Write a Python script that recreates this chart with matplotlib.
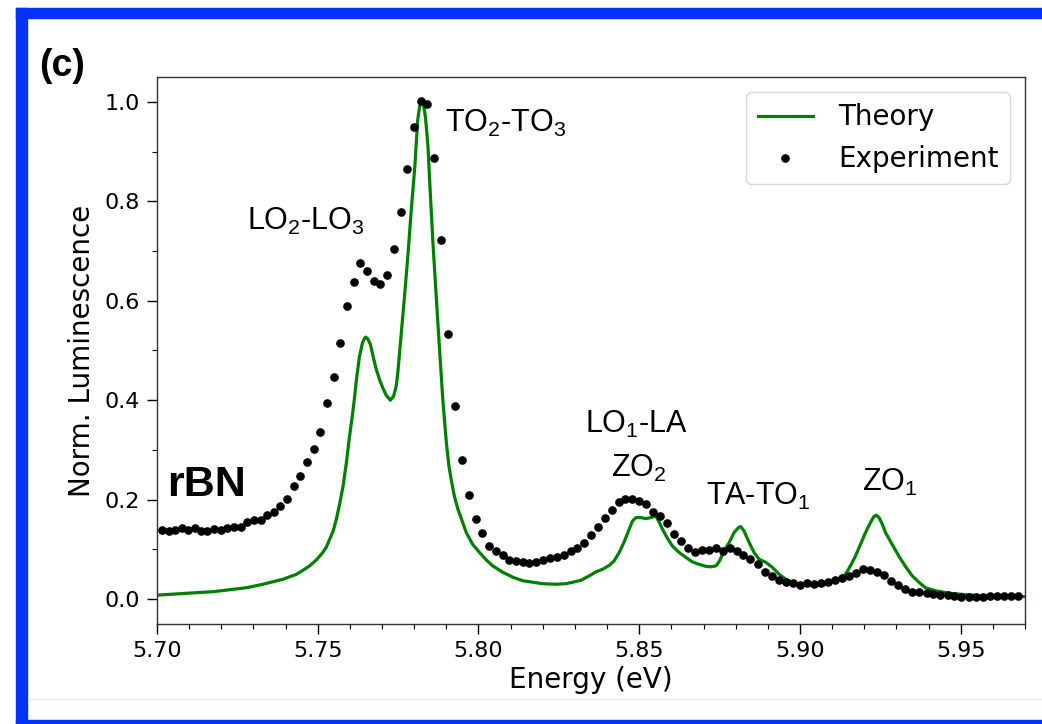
import matplotlib
matplotlib.use("Agg")
import matplotlib.pyplot as plt
from matplotlib.patches import Rectangle
from matplotlib.lines import Line2D
from matplotlib.ticker import MultipleLocator

# ---------------- data ----------------
theory_energy = [5.7000, 5.7071, 5.7123, 5.7175, 5.7227, 5.7279, 5.7330, 5.7361, 5.7392, 5.7413,
                 5.7434, 5.7454, 5.7475, 5.7496, 5.7516, 5.7527, 5.7537, 5.7548, 5.7558, 5.7568,
                 5.7579, 5.7589, 5.7599, 5.7608, 5.7615, 5.7620, 5.7630, 5.7639, 5.7646, 5.7649,
                 5.7656, 5.7664, 5.7672, 5.7682, 5.7693, 5.7703, 5.7713, 5.7726, 5.7736, 5.7744,
                 5.7749, 5.7760, 5.7770, 5.7781, 5.7791, 5.7802, 5.7811, 5.7817, 5.7823, 5.7829,
                 5.7835, 5.7843, 5.7848, 5.7858, 5.7869, 5.7874, 5.7879, 5.7889, 5.7900, 5.7908,
                 5.7915, 5.7925, 5.7936, 5.7951, 5.7962, 5.7982, 5.8003, 5.8024, 5.8044, 5.8076,
                 5.8107, 5.8138, 5.8169, 5.8200, 5.8241, 5.8272, 5.8293, 5.8319, 5.8345, 5.8366,
                 5.8386, 5.8407, 5.8422, 5.8438, 5.8453, 5.8469, 5.8479, 5.8490, 5.8505, 5.8521,
                 5.8536, 5.8552, 5.8562, 5.8572, 5.8588, 5.8603, 5.8624, 5.8645, 5.8665, 5.8686,
                 5.8707, 5.8723, 5.8739, 5.8750, 5.8764, 5.8780, 5.8795, 5.8809, 5.8816, 5.8826,
                 5.8842, 5.8857, 5.8873, 5.8894, 5.8914, 5.8935, 5.8956, 5.8976, 5.8997, 5.9043,
                 5.9080, 5.9100, 5.9121, 5.9142, 5.9157, 5.9173, 5.9188, 5.9204, 5.9220, 5.9230,
                 5.9237, 5.9246, 5.9256, 5.9266, 5.9287, 5.9307, 5.9328, 5.9349, 5.9370, 5.9390,
                 5.9421, 5.9463, 5.9514, 5.9566, 5.9700]
theory_lum = [0.008, 0.011, 0.013, 0.015, 0.019, 0.023, 0.030, 0.035, 0.040, 0.045,
              0.050, 0.058, 0.067, 0.079, 0.094, 0.105, 0.120, 0.137, 0.161, 0.191,
              0.228, 0.274, 0.328, 0.371, 0.408, 0.440, 0.489, 0.515, 0.525, 0.527,
              0.523, 0.512, 0.489, 0.462, 0.440, 0.424, 0.410, 0.400, 0.408, 0.428,
              0.455, 0.535, 0.609, 0.696, 0.783, 0.870, 0.964, 0.991, 1.000, 0.994,
              0.970, 0.910, 0.843, 0.720, 0.602, 0.552, 0.502, 0.402, 0.315, 0.268,
              0.241, 0.207, 0.181, 0.154, 0.134, 0.110, 0.094, 0.079, 0.067, 0.054,
              0.044, 0.037, 0.034, 0.031, 0.030, 0.031, 0.034, 0.038, 0.047, 0.055,
              0.060, 0.068, 0.077, 0.094, 0.115, 0.141, 0.157, 0.164, 0.164, 0.162,
              0.164, 0.167, 0.155, 0.141, 0.122, 0.107, 0.094, 0.084, 0.075, 0.070,
              0.066, 0.065, 0.067, 0.077, 0.097, 0.114, 0.134, 0.144, 0.146, 0.137,
              0.114, 0.094, 0.080, 0.074, 0.064, 0.050, 0.040, 0.034, 0.030, 0.027,
              0.030, 0.034, 0.040, 0.050, 0.067, 0.087, 0.110, 0.134, 0.155, 0.166,
              0.169, 0.164, 0.151, 0.134, 0.110, 0.087, 0.066, 0.047, 0.034, 0.023,
              0.017, 0.012, 0.009, 0.007, 0.005]

exp_energy = [5.7016, 5.7036, 5.7056, 5.7077, 5.7096, 5.7117, 5.7137, 5.7157, 5.7178, 5.7198,
              5.7218, 5.7238, 5.7260, 5.7280, 5.7301, 5.7322, 5.7342, 5.7363, 5.7384, 5.7405,
              5.7425, 5.7446, 5.7467, 5.7488, 5.7508, 5.7530, 5.7551, 5.7570, 5.7591, 5.7612,
              5.7633, 5.7653, 5.7674, 5.7695, 5.7715, 5.7736, 5.7758, 5.7779, 5.7799, 5.7820,
              5.7841, 5.7861, 5.7882, 5.7906, 5.7928, 5.7948, 5.7969, 5.7991, 5.8011, 5.8032,
              5.8053, 5.8075, 5.8095, 5.8117, 5.8138, 5.8158, 5.8180, 5.8202, 5.8223, 5.8243,
              5.8265, 5.8287, 5.8308, 5.8329, 5.8351, 5.8373, 5.8393, 5.8414, 5.8436, 5.8457,
              5.8478, 5.8499, 5.8522, 5.8543, 5.8565, 5.8587, 5.8609, 5.8630, 5.8652, 5.8673,
              5.8695, 5.8717, 5.8738, 5.8761, 5.8783, 5.8803, 5.8824, 5.8846, 5.8869, 5.8890,
              5.8912, 5.8934, 5.8956, 5.8977, 5.8999, 5.9021, 5.9043, 5.9064, 5.9086, 5.9108,
              5.9130, 5.9151, 5.9174, 5.9196, 5.9218, 5.9240, 5.9262, 5.9284, 5.9305, 5.9327,
              5.9349, 5.9371, 5.9394, 5.9415, 5.9437, 5.9459, 5.9480, 5.9502, 5.9525, 5.9547,
              5.9568, 5.9590, 5.9612, 5.9634, 5.9655, 5.9677]
exp_lum = [0.139, 0.138, 0.139, 0.143, 0.140, 0.143, 0.137, 0.137, 0.141, 0.139,
           0.143, 0.145, 0.146, 0.155, 0.160, 0.159, 0.169, 0.175, 0.187, 0.201,
           0.227, 0.248, 0.275, 0.301, 0.337, 0.395, 0.446, 0.515, 0.590, 0.637,
           0.675, 0.660, 0.639, 0.634, 0.651, 0.704, 0.779, 0.865, 0.949, 1.001,
           0.995, 0.887, 0.723, 0.534, 0.388, 0.279, 0.209, 0.161, 0.133, 0.107,
           0.096, 0.088, 0.079, 0.076, 0.074, 0.072, 0.074, 0.079, 0.082, 0.084,
           0.088, 0.096, 0.102, 0.113, 0.129, 0.146, 0.164, 0.179, 0.195, 0.202,
           0.202, 0.197, 0.191, 0.175, 0.167, 0.153, 0.131, 0.116, 0.102, 0.095,
           0.098, 0.098, 0.102, 0.096, 0.102, 0.096, 0.089, 0.080, 0.070, 0.054,
           0.046, 0.039, 0.035, 0.033, 0.029, 0.032, 0.030, 0.032, 0.035, 0.038,
           0.043, 0.047, 0.053, 0.060, 0.059, 0.054, 0.048, 0.036, 0.028, 0.020,
           0.015, 0.014, 0.012, 0.010, 0.009, 0.008, 0.007, 0.005, 0.005, 0.005,
           0.005, 0.006, 0.006, 0.006, 0.007, 0.007]

peak_labels = [r"TO$_{\rm 2}$-TO$_{\rm 3}$", r"LO$_{\rm 2}$-LO$_{\rm 3}$", r"LO$_{\rm 1}$-LA",
               r"ZO$_{\rm 2}$", r"TA-TO$_{\rm 1}$", r"ZO$_{\rm 1}$"]
peak_label_x = [5.8084, 5.7463, 5.8492, 5.8500, 5.8871, 5.9280]
peak_label_y = [0.940, 0.743, 0.335, 0.245, 0.189, 0.217]

x_ticks = [5.70, 5.75, 5.80, 5.85, 5.90, 5.95]
y_ticks = [0.0, 0.2, 0.4, 0.6, 0.8, 1.0]

# ---------------- style ----------------
plt.rcParams['mathtext.fontset'] = 'custom'
plt.rcParams['mathtext.rm'] = 'Liberation Sans'
plt.rcParams['mathtext.it'] = 'Liberation Sans:italic'
plt.rcParams['mathtext.bf'] = 'Liberation Sans:bold'

W, H = 1042, 724
fig = plt.figure(figsize=(W / 100, H / 100), dpi=100)
ax = fig.add_axes([157 / W, 1 - 624 / H, (1025 - 157) / W, (624 - 77) / H])

ax.plot(theory_energy, theory_lum, color='green', lw=2.3, label='Theory', zorder=2)
ax.plot(exp_energy, exp_lum, linestyle='none', marker='o', ms=5.2, color='black',
        label='Experiment', zorder=3)

ax.set_xlim(5.70, 5.97)
ax.set_ylim(-0.05, 1.05)
ax.set_xticks(x_ticks)
ax.set_yticks(y_ticks)
ax.xaxis.set_minor_locator(MultipleLocator(0.01))
ax.yaxis.set_minor_locator(MultipleLocator(0.1))
ax.tick_params(which='major', length=7, width=1, labelsize=16, pad=5)
ax.tick_params(which='minor', length=3.5, width=0.8)
for s in ax.spines.values():
    s.set_linewidth(1.0)
    s.set_color('#333333')

ax.set_xlabel('Energy (eV)', fontsize=20, labelpad=4)
ax.set_ylabel('Norm. Luminescence', fontsize=20, labelpad=6)

for lab, lx, ly in zip(peak_labels, peak_label_x, peak_label_y):
    ax.text(lx, ly, lab, fontsize=22, family='Liberation Sans', ha='center', va='baseline')
ax.text(5.7155, 0.207, 'rBN', fontsize=31, family='Liberation Sans', fontweight='bold',
        ha='center', va='baseline')

leg = ax.legend(loc='upper right', fontsize=20, borderaxespad=0.55, handletextpad=0.9,
                numpoints=1)

fig.text(39 / W, 1 - 66 / H, '(c)', fontsize=27, family='Liberation Sans', fontweight='bold',
         ha='left', va='center')

# screenshot frame decorations
blue = '#0433ff'
fig.patches.append(Rectangle((16 / W, 0), 11 / W, 1 - 8 / H, transform=fig.transFigure,
                             color=blue, zorder=0))
fig.patches.append(Rectangle((16 / W, 1 - 18 / H), 1 - 16 / W, 10 / H, transform=fig.transFigure,
                             color=blue, zorder=0))
fig.patches.append(Rectangle((16 / W, 0), 1 - 16 / W, 4 / H, transform=fig.transFigure,
                             color=blue, zorder=0))
fig.lines.append(Line2D([30 / W, 1], [1 - 699 / H, 1 - 699 / H], transform=fig.transFigure,
                        color='#e8e8e8', lw=1))

fig.savefig('out.png', dpi=100)
